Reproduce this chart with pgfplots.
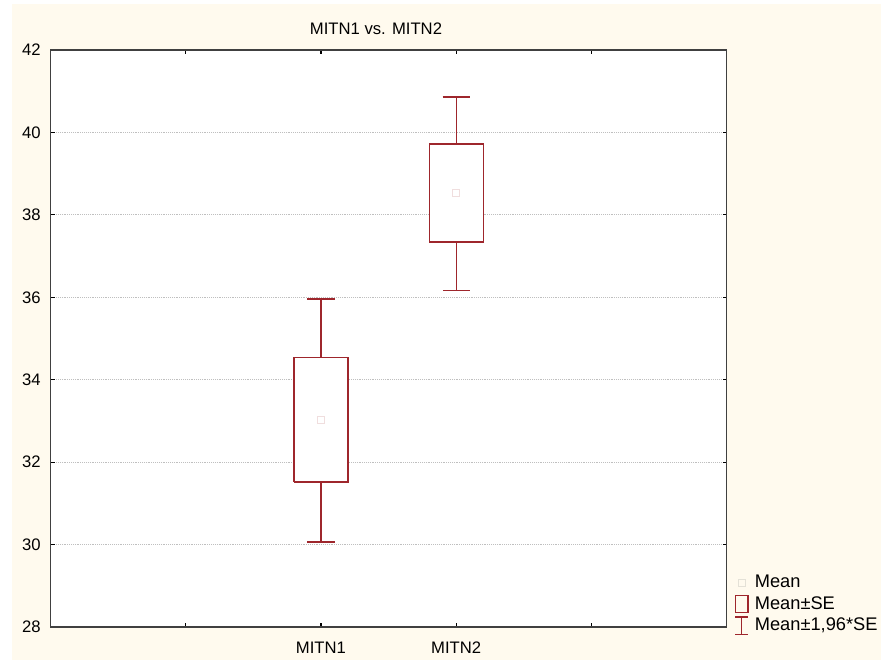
\documentclass[border=0pt]{standalone}
\usepackage{pgfplots}
\pgfplotsset{compat=1.18}
\usepackage{fontspec}
\setmainfont{Liberation Sans}
\definecolor{cream}{RGB}{255,250,238}
\definecolor{boxred}{RGB}{158,38,44}
\definecolor{meanpink}{RGB}{240,222,222}
\definecolor{meangray}{RGB}{228,225,215}
\begin{document}
\begin{tikzpicture}
\fill[white] (-37.875pt,-24.75pt) rectangle (622.875pt,470.25pt);
\fill[cream] (-28.875pt,-24.75pt) rectangle (622.875pt,467.25pt);
\useasboundingbox (-37.875pt,-24.75pt) rectangle (622.875pt,470.25pt);
\node[anchor=base, font=\fontsize{12.5}{15}\selectfont] at (244.1pt,444pt) {MITN1 vs. MITN2};
\begin{axis}[
  at={(0pt,0pt)}, anchor=south west, scale only axis,
  width=507.15pt, height=432.75pt,
  xmin=0, xmax=5, ymin=28, ymax=42,
  xtick={1,2,3,4}, xticklabels={,MITN1,MITN2,},
  ytick={28,30,32,34,36,38,40,42},
  tick align=inside, tick pos=both, ticklabel pos=left,
  major tick length=3pt,
  tick style={black, line width=0.8pt},
  ymajorgrids, major grid style={densely dotted, black!25, line width=0.6pt},
  axis line style={draw=black!75, line width=1.1pt},
  axis background/.style={fill=white},
  tick label style={font=\fontsize{12.5}{15}\selectfont, inner sep=0pt},
  /pgf/number format/assume math mode=true,
  yticklabel style={anchor=east, xshift=-7.1pt},
  xticklabel style={anchor=north, yshift=-11.25pt},
  legend style={at={(axis description cs:1,0)}, anchor=south west,
    xshift=5.5pt, yshift=-6pt, draw=none, fill=none, inner sep=0pt,
    font=\fontsize{13.7}{16}\selectfont, row sep=2.5pt,
    nodes={inner sep=0.5pt, text height=10pt, text depth=2.5pt},
    /tikz/every odd column/.append style={column sep=4pt}},
  legend cell align=left,
]
% whiskers: Mean +- 1.96*SE
\addplot[forget plot, draw=none, mark=none,
  error bars/.cd, y dir=both, y explicit, error mark=|,
  error bar style={boxred, line width=1pt},
  error mark options={boxred, line width=1pt, mark size=10.14pt}]
  coordinates {(2,33.03) += (0,2.93) -= (0,2.97)
               (3,38.53) += (0,2.33) -= (0,2.36)};
% boxes: Mean +- SE
\addplot[forget plot, draw=boxred, line width=1pt, fill=white, line join=miter, mark=none]
  coordinates {(1.8,31.52) (2.2,31.52) (2.2,34.54) (1.8,34.54) (1.8,31.52)};
\addplot[forget plot, draw=boxred, line width=1pt, fill=white, line join=miter, mark=none]
  coordinates {(2.8,37.34) (3.2,37.34) (3.2,39.72) (2.8,39.72) (2.8,37.34)};
% means
\addplot[forget plot, only marks, mark=square, mark size=2.6pt,
  mark options={draw=meanpink, fill=white, line width=0.6pt}]
  coordinates {(2,33.03) (3,38.53)};
% legend
\addlegendimage{legend image code/.code={
  \path (0pt,0pt) (10.5pt,0pt);
  \draw[meangray, line width=0.6pt] (2.65pt,-2.6pt) rectangle (7.85pt,2.6pt);}}
\addlegendentry{Mean}
\addlegendimage{legend image code/.code={
  \draw[boxred, line width=0.9pt] (0.5pt,-6.4pt) rectangle (10pt,6.4pt);}}
\addlegendentry{Mean±SE}
\addlegendimage{legend image code/.code={
  \draw[boxred, line width=0.9pt] (0.5pt,-6.4pt) -- (10pt,-6.4pt)
    (5.25pt,-6.4pt) -- (5.25pt,6.4pt) (0.5pt,6.4pt) -- (10pt,6.4pt);}}
\addlegendentry{Mean±1,96*SE}
\end{axis}
\end{tikzpicture}
\end{document}
